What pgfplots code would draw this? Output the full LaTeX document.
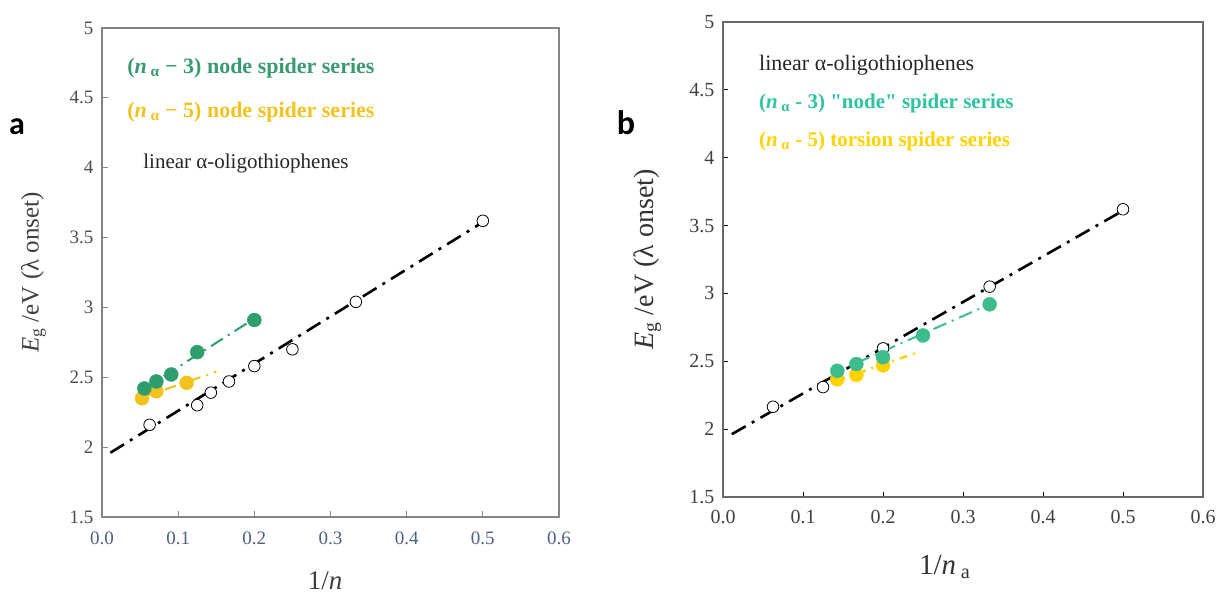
\documentclass[border=0pt]{standalone}
\usepackage{fontspec}
\setmainfont{Liberation Serif}
\newfontfamily\plainserif[Ligatures=TeXOff]{Liberation Serif}
\newfontfamily\panelfont{Carlito}
\usepackage{pgfplots}
\pgfplotsset{compat=1.18}
\definecolor{gA}{HTML}{2F9E6E}
\definecolor{gAtext}{HTML}{3A9A70}
\definecolor{yA}{HTML}{F2C21E}
\definecolor{gB}{HTML}{3DBD8C}
\definecolor{gBtext}{HTML}{2EC4A0}
\definecolor{yB}{HTML}{FFD200}
\definecolor{tickblue}{HTML}{4F5F85}
\definecolor{axA}{HTML}{858585}
\definecolor{axB}{HTML}{6A6A6A}
\pgfplotsset{
  fitline/.style={black, line width=2.6pt, dash pattern=on 16pt off 7pt on 3pt off 7pt, no markers},
  openpt/.style={only marks, mark=*, mark size=5.8pt, mark options={draw=black, fill=white, line width=0.8pt}},
  ticksset/.style={
    xtick={0,0.1,0.2,0.3,0.4,0.5,0.6},
    xticklabels={\textrm{0.0},\textrm{0.1},\textrm{0.2},\textrm{0.3},\textrm{0.4},\textrm{0.5},\textrm{0.6}},
    ytick={1.5,2,2.5,3,3.5,4,4.5,5},
    yticklabels={\textrm{1.5},\textrm{2},\textrm{2.5},\textrm{3},\textrm{3.5},\textrm{4},\textrm{4.5},\textrm{5}},
  },
}
\begin{document}
\begin{tikzpicture}
\useasboundingbox (0pt,0pt) rectangle (1219pt,599pt);
% ---------------- panel a ----------------
\begin{axis}[
  ticksset,
  at={(102pt,82pt)}, anchor=south west, scale only axis,
  width=457pt, height=489pt,
  xmin=0, xmax=0.6, ymin=1.5, ymax=5,
  tick align=inside, major tick length=6pt,
  xtick pos=bottom, ytick pos=left,
  axis line style={axA, line width=1.6pt},
  every tick/.style={axA, line width=1pt},
  x tick label style={font=\fontsize{19}{19}\selectfont, text=tickblue, yshift=-11pt},
  y tick label style={font=\fontsize{19}{19}\selectfont, text=black!70, xshift=-5pt},
  xlabel={1/\textit{n}},
  xlabel style={font=\fontsize{27}{27}\selectfont, text=black!75, at={(axis description cs:0.488,-0.13)}, anchor=center},
  ylabel={\textit{E}\textsubscript{g} /eV (λ onset)},
  ylabel style={font=\fontsize{25}{25}\selectfont, text=black!75, at={(axis description cs:-0.15,0.5)}, anchor=center},
]
\addplot[fitline] coordinates {(0.011,1.96) (0.5,3.61)};
\addplot[gA, line width=2pt, dash pattern=on 14pt off 6pt on 2pt off 6pt] coordinates {(0.05,2.40) (0.2,2.92)};
\addplot[yA, line width=2pt, dash pattern=on 12pt off 6pt on 2pt off 6pt] coordinates {(0.05,2.35) (0.15,2.54)};
\addplot[openpt] coordinates {(0.0625,2.16) (0.125,2.30) (0.1429,2.39) (0.1667,2.47) (0.2,2.58) (0.25,2.70) (0.3333,3.04) (0.5,3.62)};
\addplot[only marks, mark=*, mark size=7pt, color=yA] coordinates {(0.0526,2.35) (0.0714,2.40) (0.1111,2.46)};
\addplot[only marks, mark=*, mark size=7pt, color=gA] coordinates {(0.0556,2.42) (0.0714,2.47) (0.0909,2.52) (0.125,2.68) (0.2,2.91)};
\node[anchor=west, text=gAtext, font=\fontsize{22}{22}\selectfont\bfseries, inner sep=0pt] at (axis cs:0.033,4.71) {(\textit{n}\,\textsubscript{α} − 3) node spider series};
\node[anchor=west, text=yA, font=\fontsize{22}{22}\selectfont\bfseries, inner sep=0pt] at (axis cs:0.033,4.40) {(\textit{n}\,\textsubscript{α} − 5) node spider series};
\node[anchor=west, text=black!85, font=\fontsize{21}{21}\selectfont, inner sep=0pt] at (axis cs:0.054,4.03) {linear α-oligothiophenes};
\end{axis}
% ---------------- panel b ----------------
\begin{axis}[
  ticksset,
  at={(723pt,102pt)}, anchor=south west, scale only axis,
  width=480pt, height=475pt,
  xmin=0, xmax=0.6, ymin=1.5, ymax=5,
  tick align=inside, major tick length=5pt,
  xtick pos=bottom, ytick pos=left,
  axis line style={axB, line width=1.2pt},
  every tick/.style={black, line width=0.8pt},
  x tick label style={font=\fontsize{20}{20}\selectfont, text=black!75, yshift=-10pt},
  y tick label style={font=\fontsize{20}{20}\selectfont, text=black!75, xshift=-5pt},
  xlabel={1/\textit{n}\,\textsubscript{a}},
  xlabel style={font=\fontsize{29}{29}\selectfont, text=black!80, at={(axis description cs:0.462,-0.147)}, anchor=center},
  ylabel={\textit{E}\textsubscript{g} /eV (λ onset)},
  ylabel style={font=\fontsize{28}{28}\selectfont, text=black!80, at={(axis description cs:-0.158,0.5)}, anchor=center},
]
\addplot[fitline] coordinates {(0.011,1.963) (0.5,3.61)};
\addplot[gB, line width=2pt, dash pattern=on 14pt off 6pt on 2pt off 6pt] coordinates {(0.135,2.405) (0.3333,2.92)};
\addplot[yB, line width=2.4pt, dash pattern=on 8pt off 6pt on 2pt off 6pt] coordinates {(0.143,2.36) (0.2455,2.57)};
\addplot[openpt] coordinates {(0.0625,2.165) (0.125,2.31) (0.2,2.595) (0.3333,3.05) (0.5,3.62)};
\addplot[only marks, mark=*, mark size=7pt, color=yB] coordinates {(0.1429,2.367) (0.1667,2.40) (0.2,2.47)};
\addplot[only marks, mark=*, mark size=7pt, color=gB] coordinates {(0.1429,2.43) (0.1667,2.48) (0.2,2.53) (0.25,2.69) (0.3333,2.92)};
\node[anchor=west, text=black!85, font=\fontsize{22}{22}\selectfont, inner sep=0pt] at (axis cs:0.045,4.68) {linear α-oligothiophenes};
\node[anchor=west, text=gBtext, font=\plainserif\fontsize{21}{21}\selectfont\bfseries, inner sep=0pt] at (axis cs:0.045,4.40) {(\textit{n}\,\textsubscript{α} - 3) "node" spider series};
\node[anchor=west, text=yB, font=\fontsize{21}{21}\selectfont\bfseries, inner sep=0pt] at (axis cs:0.045,4.12) {(\textit{n}\,\textsubscript{α} - 5) torsion spider series};
\end{axis}
\node[font=\panelfont\bfseries\fontsize{32}{32}\selectfont] at (17pt,472pt) {a};
\node[font=\panelfont\bfseries\fontsize{34}{34}\selectfont] at (626pt,476pt) {b};
\end{tikzpicture}
\end{document}
